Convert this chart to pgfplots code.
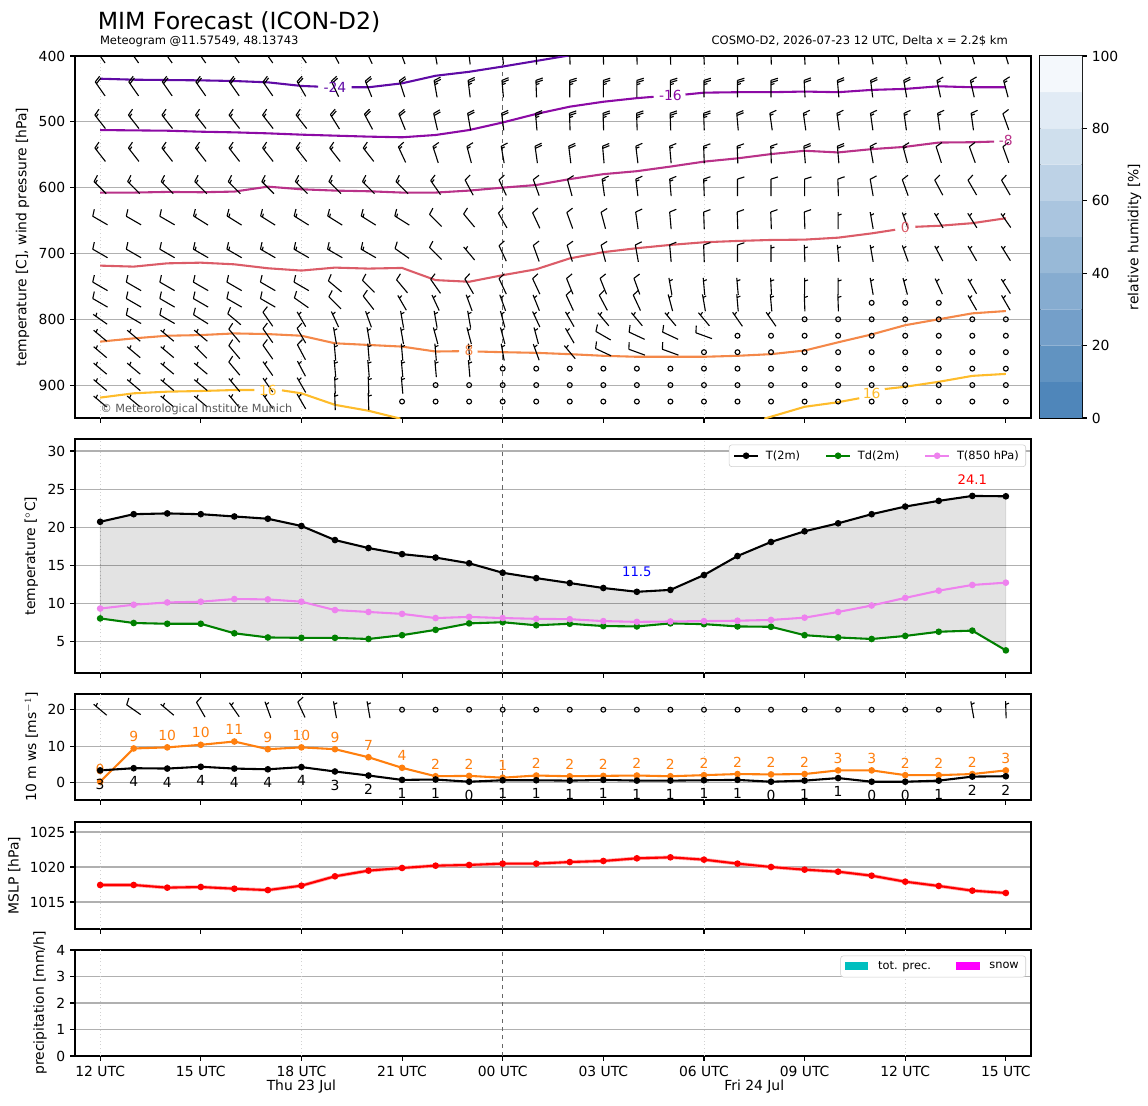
\documentclass[border=0pt]{standalone}
\usepackage{pgfplots}
\pgfplotsset{compat=1.18}
\usepackage{pgfplotstable}
\usepackage{fontspec}
\setmainfont{DejaVu Sans}

\definecolor{gridc}{HTML}{B0B0B0}
\definecolor{cma}{RGB}{95,10,165}
\definecolor{cmb}{RGB}{140,10,165}
\definecolor{cmc}{RGB}{185,50,137}
\definecolor{czero}{RGB}{219,92,104}
\definecolor{cpa}{RGB}{244,136,73}
\definecolor{cpb}{RGB}{254,188,43}
\definecolor{mplorange}{HTML}{FF7F0E}
\definecolor{mplgreen}{HTML}{008000}
\definecolor{violetc}{HTML}{EE82EE}
\definecolor{precc}{HTML}{00BFBF}
\definecolor{snowc}{HTML}{FF00FF}
\definecolor{rha}{RGB}{79,134,186}
\definecolor{rhb}{RGB}{97,147,193}
\definecolor{rhc}{RGB}{116,159,201}
\definecolor{rhd}{RGB}{134,172,208}
\definecolor{rhe}{RGB}{152,185,215}
\definecolor{rhf}{RGB}{170,197,223}
\definecolor{rhg}{RGB}{189,210,230}
\definecolor{rhh}{RGB}{207,223,237}
\definecolor{rhi}{RGB}{225,235,245}
\definecolor{rhj}{RGB}{244,248,252}

\newcommand\fb[1]{\pgfpathmoveto{\pgfqpoint{#1pt}{0pt}}\pgfpathlineto{\pgfpointadd{\pgfqpoint{#1pt}{0pt}}{\pgfqpoint{1.54pt}{-4.92pt}}}}
\newcommand\hb[1]{\pgfpathmoveto{\pgfqpoint{#1pt}{0pt}}\pgfpathlineto{\pgfpointadd{\pgfqpoint{#1pt}{0pt}}{\pgfqpoint{0.77pt}{-2.46pt}}}}
\def\wn{0}\def\wdir{0}
\pgfdeclareplotmark{barb}{%
  \pgfscope
  \pgfsetlinewidth{0.8pt}%
  \pgfsetstrokecolor{black}%
  \pgfmathtruncatemacro\barbn{\wn}%
  \ifnum\barbn=0\relax
    \pgfpathcircle{\pgfpointorigin}{1.75pt}\pgfusepath{stroke}%
  \else
    \pgftransformrotate{\wdir}%
    \pgfpathmoveto{\pgfqpoint{-6.15pt}{0pt}}\pgfpathlineto{\pgfqpoint{6.15pt}{0pt}}%
    \ifcase\barbn\or\hb{3.84}\or\fb{6.15}\or\fb{6.15}\hb{4.61}\or\fb{6.15}\fb{4.61}\or\fb{6.15}\fb{4.61}\hb{3.07}\or\fb{6.15}\fb{4.61}\fb{3.07}\fi
    \pgfusepath{stroke}%
  \fi
  \endpgfscope}

\newcommand\daylines{%
  \draw[gray!35, dotted, line width=0.6pt] (rel axis cs:0.026316,0) -- (rel axis cs:0.026316,1);
  \draw[gray!35, dotted, line width=0.6pt] (rel axis cs:0.236842,0) -- (rel axis cs:0.236842,1);
  \draw[gray!35, dotted, line width=0.6pt] (rel axis cs:0.657895,0) -- (rel axis cs:0.657895,1);
  \draw[gray!35, dotted, line width=0.6pt] (rel axis cs:0.868421,0) -- (rel axis cs:0.868421,1);
  \draw[black!60, dashed, line width=0.5pt] (rel axis cs:0.447368,0) -- (rel axis cs:0.447368,1);}

\pgfplotsset{base/.style={
  scale only axis, width=688.32pt, xmin=-0.75, xmax=27.75,
  xtick={0,3,...,27}, xticklabels={},
  tick align=outside, xtick pos=left, ytick pos=left,
  major tick length=3.5pt,
  tick style={black, line width=0.8pt},
  axis line style={line width=0.8pt},
  ymajorgrids, grid style={gridc, line width=0.8pt},
  tick label style={font=\fontsize{10}{12}\selectfont},
  label style={font=\fontsize{10}{12}\selectfont},
  /pgf/number format/assume math mode=true,
  /pgf/number format/1000 sep={},
}}

\pgfplotstableread{
t T2 Td T850
0 20.7 8.0 9.3
1 21.7 7.4 9.8
2 21.8 7.3 10.1
3 21.7 7.3 10.2
4 21.4 6.05 10.55
5 21.1 5.5 10.5
6 20.15 5.45 10.2
7 18.3 5.45 9.1
8 17.25 5.3 8.85
9 16.45 5.8 8.6
10 16.0 6.5 8.05
11 15.25 7.35 8.2
12 14.0 7.5 8.05
13 13.3 7.1 7.95
14 12.65 7.3 7.9
15 12.0 7.0 7.65
16 11.5 6.95 7.55
17 11.75 7.35 7.6
18 13.7 7.25 7.65
19 16.2 6.95 7.7
20 18.05 6.9 7.8
21 19.45 5.8 8.1
22 20.5 5.5 8.85
23 21.7 5.3 9.7
24 22.7 5.7 10.7
25 23.45 6.25 11.65
26 24.1 6.4 12.4
27 24.05 3.8 12.7
}\tempdata

\pgfplotstableread{
t ws gust
0 3.4 0.3
1 4.0 9.4
2 3.9 9.7
3 4.4 10.4
4 3.9 11.3
5 3.7 9.2
6 4.3 9.7
7 3.1 9.2
8 2.0 7.0
9 0.8 4.1
10 0.9 1.8
11 0.3 1.9
12 0.7 1.4
13 0.7 2.0
14 0.6 1.8
15 0.8 1.9
16 0.6 2.0
17 0.6 1.8
18 0.7 2.1
19 0.8 2.4
20 0.3 2.3
21 0.6 2.4
22 1.3 3.4
23 0.3 3.4
24 0.3 2.1
25 0.6 2.1
26 1.7 2.4
27 1.8 3.4
}\winddata

\pgfplotstableread{
t y d n
0 20 140 1
1 20 145 2
2 20 140 1
3 20 120 2
4 20 125 1
5 20 110 1
6 20 115 2
7 20 100 1
8 20 100 1
9 20 0 0
10 20 0 0
11 20 0 0
12 20 0 0
13 20 0 0
14 20 0 0
15 20 0 0
16 20 0 0
17 20 0 0
18 20 0 0
19 20 0 0
20 20 0 0
21 20 0 0
22 20 0 0
23 20 0 0
24 20 0 0
25 20 0 0
26 20 100 1
27 20 92 1
}\surfbarbs

\pgfplotstableread{
t p
0 1017.43
1 1017.43
2 1017.05
3 1017.14
4 1016.9
5 1016.7
6 1017.33
7 1018.67
8 1019.48
9 1019.86
10 1020.19
11 1020.29
12 1020.48
13 1020.48
14 1020.71
15 1020.86
16 1021.24
17 1021.38
18 1021.05
19 1020.48
20 1020.0
21 1019.62
22 1019.33
23 1018.76
24 1017.9
25 1017.29
26 1016.62
27 1016.29
}\mslpdata

\pgfplotstableread{
t prec
0 0
27 0
}\precdata

\pgfplotstableread{
t p d n
0 400 125 4
1 400 125 4
2 400 125 4
3 400 125 4
4 400 125 4
5 400 125 4
6 400 125 4
7 400 118 4
8 400 115 4
9 400 110 4
10 400 100 5
11 400 97 5
12 400 95 5
13 400 92 5
14 400 92 5
15 400 92 5
16 400 92 5
17 400 92 5
18 400 92 5
19 400 92 5
20 400 92 5
21 400 93 4
22 400 95 4
23 400 100 4
24 400 102 4
25 400 105 3
26 400 105 3
27 400 107 3
0 450 125 4
1 450 125 4
2 450 125 4
3 450 125 4
4 450 125 4
5 450 125 4
6 450 120 4
7 450 115 4
8 450 112 4
9 450 108 4
10 450 100 5
11 450 97 5
12 450 95 5
13 450 92 5
14 450 90 5
15 450 90 5
16 450 90 5
17 450 90 5
18 450 90 5
19 450 90 5
20 450 90 5
21 450 93 4
22 450 95 4
23 450 97 4
24 450 100 4
25 450 102 3
26 450 103 3
27 450 105 3
0 500 128 3
1 500 128 3
2 500 128 3
3 500 128 3
4 500 128 3
5 500 128 3
6 500 128 3
7 500 122 4
8 500 118 4
9 500 112 4
10 500 103 4
11 500 100 4
12 500 97 4
13 500 95 5
14 500 92 5
15 500 92 5
16 500 92 5
17 500 92 5
18 500 92 5
19 500 95 4
20 500 98 3
21 500 98 3
22 500 98 3
23 500 98 3
24 500 98 3
25 500 98 3
26 500 98 3
27 500 110 2
0 550 128 3
1 550 128 3
2 550 128 3
3 550 128 3
4 550 128 3
5 550 128 3
6 550 128 3
7 550 128 3
8 550 128 3
9 550 115 3
10 550 108 3
11 550 105 3
12 550 100 3
13 550 98 4
14 550 97 4
15 550 95 4
16 550 97 3
17 550 95 3
18 550 92 3
19 550 92 3
20 550 92 3
21 550 95 4
22 550 95 4
23 550 100 3
24 550 105 3
25 550 108 2
26 550 110 2
27 550 110 2
0 600 135 3
1 600 135 3
2 600 135 3
3 600 135 3
4 600 135 3
5 600 135 3
6 600 135 3
7 600 135 3
8 600 135 3
9 600 135 3
10 600 125 3
11 600 118 2
12 600 115 2
13 600 110 2
14 600 105 2
15 600 98 3
16 600 97 3
17 600 95 3
18 600 92 3
19 600 90 2
20 600 90 2
21 600 90 2
22 600 92 2
23 600 100 2
24 600 110 2
25 600 118 2
26 600 120 2
27 600 120 2
0 650 150 2
1 650 150 2
2 650 150 2
3 650 148 3
4 650 148 3
5 650 148 3
6 650 148 3
7 650 148 3
8 650 148 3
9 650 148 3
10 650 135 2
11 650 130 2
12 650 120 2
13 650 115 2
14 650 110 2
15 650 105 2
16 650 98 2
17 650 95 2
18 650 92 2
19 650 92 2
20 650 92 2
21 650 92 2
22 650 90 1
23 650 100 1
24 650 110 1
25 650 120 1
26 650 122 1
27 650 125 1
0 700 150 2
1 700 150 2
2 700 150 2
3 700 150 3
4 700 150 3
5 700 150 3
6 700 150 3
7 700 150 3
8 700 150 3
9 700 145 2
10 700 135 2
11 700 130 1
12 700 115 2
13 700 110 2
14 700 108 2
15 700 105 2
16 700 100 2
17 700 95 2
18 700 92 2
19 700 90 2
20 700 90 1
21 700 92 1
22 700 95 1
23 700 100 1
24 700 110 1
25 700 118 1
26 700 120 1
27 700 122 1
0 750 150 2
1 750 150 2
2 750 150 2
3 750 150 2
4 750 150 2
5 750 150 2
6 750 150 2
7 750 140 2
8 750 135 2
9 750 130 2
10 750 125 2
11 750 120 2
12 750 115 2
13 750 115 2
14 750 112 2
15 750 112 2
16 750 110 2
17 750 100 1
18 750 95 1
19 750 95 1
20 750 93 1
21 750 90 1
22 750 90 1
23 750 100 1
24 750 105 1
25 750 115 1
26 750 120 1
27 750 122 1
0 775 150 2
1 775 150 2
2 775 150 2
3 775 150 2
4 775 150 2
5 775 150 2
6 775 145 2
7 775 135 2
8 775 128 2
9 775 120 1
10 775 115 1
11 775 110 1
12 775 110 1
13 775 112 1
14 775 115 2
15 775 118 2
16 775 115 2
17 775 105 1
18 775 100 1
19 775 95 1
20 775 95 1
21 775 92 1
22 775 92 1
23 775 0 0
24 775 0 0
25 775 0 0
26 775 120 1
27 775 120 1
0 800 145 1
1 800 150 2
2 800 150 2
3 800 148 2
4 800 140 2
5 800 125 2
6 800 120 1
7 800 115 1
8 800 110 1
9 800 100 1
10 800 100 1
11 800 100 1
12 800 105 1
13 800 115 1
14 800 120 1
15 800 130 1
16 800 130 1
17 800 130 1
18 800 130 1
19 800 125 1
20 800 125 1
21 800 0 0
22 800 0 0
23 800 0 0
24 800 0 0
25 800 0 0
26 800 0 0
27 800 0 0
0 825 140 1
1 825 140 1
2 825 140 1
3 825 140 1
4 825 130 2
5 825 125 2
6 825 120 2
7 825 100 1
8 825 100 1
9 825 100 1
10 825 105 1
11 825 105 1
12 825 105 1
13 825 105 1
14 825 120 1
15 825 150 2
16 825 155 2
17 825 155 2
18 825 160 2
19 825 0 0
20 825 0 0
21 825 0 0
22 825 0 0
23 825 0 0
24 825 0 0
25 825 0 0
26 825 0 0
27 825 0 0
0 850 140 1
1 850 140 1
2 850 140 1
3 850 135 1
4 850 130 2
5 850 125 2
6 850 118 2
7 850 95 1
8 850 95 1
9 850 95 1
10 850 95 1
11 850 95 1
12 850 100 1
13 850 110 1
14 850 130 1
15 850 155 2
16 850 160 2
17 850 160 2
18 850 0 0
19 850 0 0
20 850 0 0
21 850 0 0
22 850 0 0
23 850 0 0
24 850 0 0
25 850 0 0
26 850 0 0
27 850 0 0
0 875 140 1
1 875 140 1
2 875 140 1
3 875 140 1
4 875 130 2
5 875 125 1
6 875 118 1
7 875 95 1
8 875 95 1
9 875 95 1
10 875 95 1
11 875 95 1
12 875 0 0
13 875 0 0
14 875 0 0
15 875 0 0
16 875 0 0
17 875 0 0
18 875 0 0
19 875 0 0
20 875 0 0
21 875 0 0
22 875 0 0
23 875 0 0
24 875 0 0
25 875 0 0
26 875 0 0
27 875 0 0
0 900 140 1
1 900 140 1
2 900 140 1
3 900 140 1
4 900 130 1
5 900 125 1
6 900 120 1
7 900 92 1
8 900 92 1
9 900 95 1
10 900 0 0
11 900 0 0
12 900 0 0
13 900 0 0
14 900 0 0
15 900 0 0
16 900 0 0
17 900 0 0
18 900 0 0
19 900 0 0
20 900 0 0
21 900 0 0
22 900 0 0
23 900 0 0
24 900 0 0
25 900 0 0
26 900 0 0
27 900 0 0
0 925 140 1
1 925 140 1
2 925 140 1
3 925 140 1
4 925 130 1
5 925 125 1
6 925 120 1
7 925 92 1
8 925 92 1
9 925 0 0
10 925 0 0
11 925 0 0
12 925 0 0
13 925 0 0
14 925 0 0
15 925 0 0
16 925 0 0
17 925 0 0
18 925 0 0
19 925 0 0
20 925 0 0
21 925 0 0
22 925 0 0
23 925 0 0
24 925 0 0
25 925 0 0
26 925 0 0
27 925 0 0
}\barbs

\begin{document}
\begin{tikzpicture}
\useasboundingbox (0,0) rectangle (826.56pt,795.6pt);

\node[anchor=base west, inner sep=0pt, font=\fontsize{17}{20}\selectfont] at (70.2pt,774.7pt) {MIM Forecast (ICON-D2)};
\node[anchor=base west, inner sep=0pt, font=\fontsize{8.3}{10}\selectfont] at (71.8pt,763.2pt) {Meteogram @11.57549, 48.13743};
\node[anchor=base east, inner sep=0pt, font=\fontsize{8.3}{10}\selectfont] at (725.8pt,763.2pt) {COSMO-D2, 2026-07-23 12 UTC, Delta x = 2.2\$ km};

% ---------- Panel 1
\begin{axis}[base, at={(54pt,494.64pt)}, anchor=south west, height=260.64pt,
  ymin=400, ymax=950, y dir=reverse, ytick={400,500,...,900},
  clip mode=individual, clip marker paths=true,
  ylabel={temperature [C], wind pressure [hPa]}]
\daylines
\addplot[cma, line width=1.5pt] coordinates {(0,434.5) (1,436) (2,436.5) (3,437) (4,438) (5,440) (6,445.5) (6.5,446.5)};
\addplot[cma, line width=1.5pt] coordinates {(7.5,447.5) (8,447.5) (9,441.5) (10,430) (11,424) (12,416) (13,407.5) (14,399)};
\addplot[cmb, line width=1.5pt] coordinates {(0,512.5) (1,513) (2,513.5) (3,515) (4,516) (5,517.5) (6,519.5) (7,521) (8,522.5) (9,523.5) (10,520) (11,512.5) (12,501) (13,488) (14,477) (15,469.5) (16,464) (16.5,462)};
\addplot[cmb, line width=1.5pt] coordinates {(17.45,458.5) (18,455.7) (19,455) (20,455) (21,454) (22,455) (23,451.5) (24,450) (25,446) (26,447.5) (27,447.5)};
\addplot[cmc, line width=1.5pt] coordinates {(0,607.5) (1,607.5) (2,606.5) (3,607) (4,606) (5,598.5) (6,602.5) (7,604.5) (8,605.5) (9,607.5) (10,607.5) (11,604.5) (12,600) (13,596) (14,587) (15,579.5) (16,575) (17,568) (18,560.5) (19,555.5) (20,549) (21,544) (22,546.5) (23,541.5) (24,538) (25,531.5) (26,531) (26.65,530)};
\addplot[czero, line width=1.5pt] coordinates {(0,718.5) (1,720) (2,715) (3,714) (4,716.5) (5,722.5) (6,726) (7,721.5) (8,723) (9,722) (10,740.5) (11,743) (12,733) (13,724) (14,707.5) (15,698) (16,692) (17,687) (18,683) (19,681) (20,679.5) (21,679) (22,676) (23,669.5) (23.7,664)};
\addplot[czero, line width=1.5pt] coordinates {(24.3,659.5) (25,658) (26,654) (27,646.5)};
\addplot[cpa, line width=1.5pt] coordinates {(0,834) (1,829) (2,825) (3,824) (4,821.5) (5,822.5) (6,825) (7,836.5) (8,839) (9,841.5) (10,849) (10.7,848.5)};
\addplot[cpa, line width=1.5pt] coordinates {(11.25,849) (12,850) (13,851) (14,853) (15,855.5) (16,857) (17,857) (18,857) (19,855.5) (20,853) (21,847.5) (22,835) (23,823) (24,809) (25,800) (26,791) (27,787.5)};
\addplot[cpb, line width=1.5pt] coordinates {(0,919) (1,912.5) (2,910) (3,909) (4,907.5) (4.6,907.5)};
\addplot[cpb, line width=1.5pt] coordinates {(5.42,908) (6,912.5) (7,930) (8,939) (8.95,951)};
\addplot[cpb, line width=1.5pt] coordinates {(19.8,951) (20,948) (21,933) (22,926) (22.63,920)};
\addplot[cpb, line width=1.5pt] coordinates {(23.39,906) (24,902.5) (25,895) (26,886) (27,883)};
\addplot[scatter, only marks, mark=barb, scatter/use mapped color={draw=black,fill=black},
  visualization depends on={\thisrow{d}\as\wdir},
  visualization depends on={\thisrow{n}\as\wn}]
  table[x=t,y=p] {\barbs};
\node[text=cma, font=\fontsize{10}{12}\selectfont] at (axis cs:7.0,447) {-24};
\node[text=cmb, font=\fontsize{10}{12}\selectfont] at (axis cs:17.0,460.5) {-16};
\node[text=cmc, font=\fontsize{10}{12}\selectfont] at (axis cs:27.0,529) {-8};
\node[text=czero, font=\fontsize{10}{12}\selectfont] at (axis cs:24.0,661) {0};
\node[text=cpa, font=\fontsize{10}{12}\selectfont] at (axis cs:11.0,847) {8};
\node[text=cpb, font=\fontsize{10}{12}\selectfont] at (axis cs:5.0,907.5) {16};
\node[text=cpb, font=\fontsize{10}{12}\selectfont] at (axis cs:23.0,912) {16};
\node[anchor=west, inner sep=0pt, text=black!65, font=\fontsize{8.1}{10}\selectfont] at (rel axis cs:0.0265,0.025) {© Meteorological Institute Munich};
\end{axis}

% ---------- colorbar
\begin{axis}[at={(748.8pt,494.64pt)}, anchor=south west, scale only axis,
  width=30.24pt, height=260.64pt, xmin=0, xmax=1, ymin=0, ymax=100,
  xtick=\empty, ytick={0,20,...,100}, yticklabel pos=right, ytick pos=right,
  tick align=outside, major tick length=3.5pt, tick style={black, line width=0.8pt},
  axis line style={line width=0.8pt},
  tick label style={font=\fontsize{10}{12}\selectfont},
  label style={font=\fontsize{10}{12}\selectfont},
  /pgf/number format/assume math mode=true,
  ylabel near ticks, ylabel={relative humidity [\%]}]
\addplot[fill=rha, draw=none] coordinates {(0,0) (1,0) (1,10) (0,10) (0,0)};
\addplot[fill=rhb, draw=none] coordinates {(0,10) (1,10) (1,20) (0,20) (0,10)};
\addplot[fill=rhc, draw=none] coordinates {(0,20) (1,20) (1,30) (0,30) (0,20)};
\addplot[fill=rhd, draw=none] coordinates {(0,30) (1,30) (1,40) (0,40) (0,30)};
\addplot[fill=rhe, draw=none] coordinates {(0,40) (1,40) (1,50) (0,50) (0,40)};
\addplot[fill=rhf, draw=none] coordinates {(0,50) (1,50) (1,60) (0,60) (0,50)};
\addplot[fill=rhg, draw=none] coordinates {(0,60) (1,60) (1,70) (0,70) (0,60)};
\addplot[fill=rhh, draw=none] coordinates {(0,70) (1,70) (1,80) (0,80) (0,70)};
\addplot[fill=rhi, draw=none] coordinates {(0,80) (1,80) (1,90) (0,90) (0,80)};
\addplot[fill=rhj, draw=none] coordinates {(0,90) (1,90) (1,100) (0,100) (0,90)};
\end{axis}

% ---------- Panel 2
\begin{axis}[base, at={(54pt,311.04pt)}, anchor=south west, height=168.48pt,
  ymin=0.83, ymax=31.58, ytick={5,10,...,30},
  ylabel={temperature [$^\circ$C]},
  legend columns=3, legend cell align=left,
  legend style={at={(1,1)}, anchor=north east, xshift=-3.6pt, yshift=-4pt,
    font=\fontsize{8.2}{10}\selectfont, draw=black!20, rounded corners=2pt,
    /tikz/every odd column/.append style={column sep=3pt},
    /tikz/every even column/.append style={column sep=16pt}},
  legend image post style={sharp corners}]
\daylines
\addplot[fill=black, fill opacity=0.11, draw=black, draw opacity=0.15, line width=0.5pt, forget plot] coordinates {(0,20.7)(1,21.7)(2,21.8)(3,21.7)(4,21.4)(5,21.1)(6,20.15)(7,18.3)(8,17.25)(9,16.45)(10,16.0)(11,15.25)(12,14.0)(13,13.3)(14,12.65)(15,12.0)(16,11.5)(17,11.75)(18,13.7)(19,16.2)(20,18.05)(21,19.45)(22,20.5)(23,21.7)(24,22.7)(25,23.45)(26,24.1)(27,24.05)
 (27,3.8)(26,6.4)(25,6.25)(24,5.7)(23,5.3)(22,5.5)(21,5.8)(20,6.9)(19,6.95)(18,7.25)(17,7.35)(16,6.95)(15,7.0)(14,7.3)(13,7.1)(12,7.5)(11,7.35)(10,6.5)(9,5.8)(8,5.3)(7,5.45)(6,5.45)(5,5.5)(4,6.05)(3,7.3)(2,7.3)(1,7.4)(0,8.0)(0,20.7)};
\addplot[black, line width=1.5pt, mark=*, mark size=1.6pt] table[x=t,y=T2] {\tempdata};
\addlegendentry{T(2m)}
\addplot[mplgreen, line width=1.5pt, mark=*, mark size=1.6pt] table[x=t,y=Td] {\tempdata};
\addlegendentry{Td(2m)}
\addplot[violetc, line width=1.5pt, mark=*, mark size=1.6pt] table[x=t,y=T850] {\tempdata};
\addlegendentry{T(850 hPa)}
\node[text=blue, font=\fontsize{9.5}{11}\selectfont] at (axis cs:16,14.1) {11.5};
\node[text=red, font=\fontsize{9.5}{11}\selectfont] at (axis cs:26,26.2) {24.1};
\end{axis}

% ---------- Panel 3
\begin{axis}[base, at={(54pt,219.6pt)}, anchor=south west, height=76.32pt,
  ymin=-4.7, ymax=24.3, ytick={0,10,20},
  ylabel={10 m ws [ms$^{-1}$]}]
\daylines
\addplot[mplorange, line width=1.5pt, mark=*, mark size=1.6pt, point meta=y,
  nodes near coords={\pgfmathprintnumber[fixed,precision=0]{\pgfplotspointmeta}},
  every node near coord/.append style={text=mplorange, font=\fontsize{10}{12}\selectfont, anchor=center, yshift=8.6pt}]
  table[x=t,y=gust] {\winddata};
\addplot[black, line width=1.5pt, mark=*, mark size=1.6pt, point meta=y,
  nodes near coords={\pgfmathprintnumber[fixed,precision=0]{\pgfplotspointmeta}},
  every node near coord/.append style={text=black, font=\fontsize{10}{12}\selectfont, anchor=center, yshift=-9.8pt}]
  table[x=t,y=ws] {\winddata};
\addplot[scatter, only marks, mark=barb, scatter/use mapped color={draw=black,fill=black},
  visualization depends on={\thisrow{d}\as\wdir},
  visualization depends on={\thisrow{n}\as\wn}]
  table[x=t,y=y] {\surfbarbs};
\end{axis}

% ---------- Panel 4
\begin{axis}[base, at={(54pt,126.72pt)}, anchor=south west, height=77.04pt,
  ymin=1011.14, ymax=1026.43, ytick={1015,1020,1025},
  ylabel={MSLP [hPa]}]
\daylines
\addplot[red!35, line width=2.6pt, forget plot] table[x=t,y=p] {\mslpdata};
\addplot[red, line width=1.5pt, mark=*, mark size=1.6pt] table[x=t,y=p] {\mslpdata};
\end{axis}

% ---------- Panel 5
\begin{axis}[base, at={(54pt,35.28pt)}, anchor=south west, height=76.32pt,
  ymin=0, ymax=4, ytick={0,1,2,3,4}, clip=false,
  xticklabels={12 UTC,15 UTC,18 UTC,21 UTC,00 UTC,03 UTC,06 UTC,09 UTC,12 UTC,15 UTC},
  ylabel={precipitation [mm/h]},
  legend columns=2, legend cell align=left,
  legend style={at={(1,1)}, anchor=north east, xshift=-3.6pt, yshift=-4pt,
    font=\fontsize{8.2}{10}\selectfont, draw=black!20, rounded corners=2pt,
    /tikz/every odd column/.append style={column sep=5pt},
    /tikz/every even column/.append style={column sep=16pt}},
  legend image code/.code={\fill[#1, sharp corners] (0pt,-2.5pt) rectangle (17pt,3.5pt);}]
\daylines
\addplot[draw=none, forget plot] table[x=t,y=prec] {\precdata};
\addlegendimage{fill=precc, draw=none}
\addlegendentry{tot. prec.}
\addlegendimage{fill=snowc, draw=none}
\addlegendentry{snow}
\node[font=\fontsize{10}{12}\selectfont, yshift=-22.3pt] at (rel axis cs:0.236842,0) {Thu 23 Jul};
\node[font=\fontsize{10}{12}\selectfont, yshift=-22.3pt] at (rel axis cs:0.710526,0) {Fri 24 Jul};
\end{axis}
\end{tikzpicture}
\end{document}
